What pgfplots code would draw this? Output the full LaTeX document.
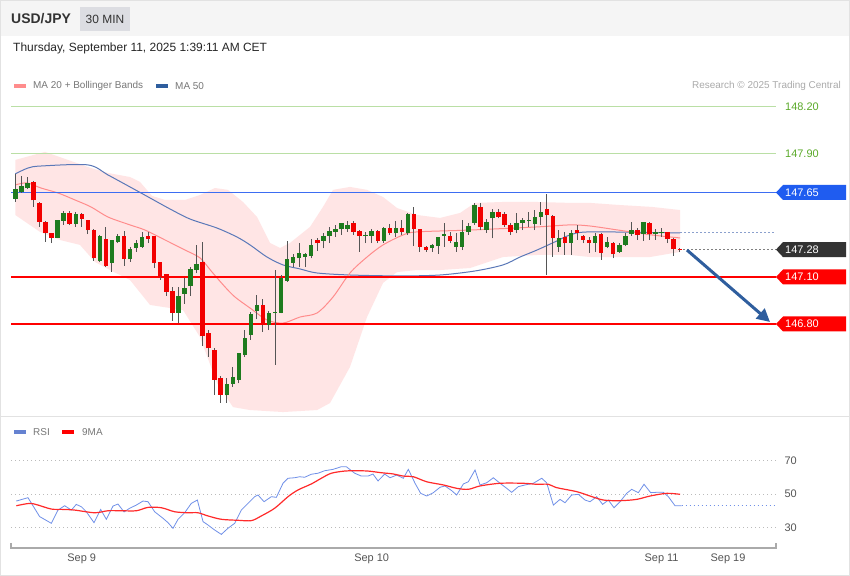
\documentclass[border=0pt]{standalone}
\usepackage{fontspec}
\setmainfont{Liberation Sans}
\usepackage{pgfplots}
\usepackage{pgfplotstable}
\pgfplotsset{compat=1.18}
\usetikzlibrary{arrows.meta}

\definecolor{upg}{HTML}{1E7B1E}
\definecolor{dnr}{HTML}{F20000}
\definecolor{wick}{HTML}{555555}
\definecolor{bb}{HTML}{FFE5E5}
\definecolor{ma20}{HTML}{FF8C8C}
\definecolor{ma50}{HTML}{5A78B8}
\definecolor{lvlg}{HTML}{BADFA5}
\definecolor{lvlgt}{HTML}{5BAA2A}
\definecolor{bluelvl}{HTML}{3D6DF2}
\definecolor{bluebox}{HTML}{1F5CF0}
\definecolor{redlvl}{HTML}{FF0000}
\definecolor{darkbox}{HTML}{333333}
\definecolor{arrowc}{HTML}{2F5E9E}
\definecolor{rsib}{HTML}{7090E8}
\definecolor{rsir}{HTML}{FF2A2A}
\definecolor{hdr}{HTML}{F5F5F5}
\definecolor{minbox}{HTML}{DCDDE2}
\definecolor{framec}{HTML}{E2E2E2}
\definecolor{gridc}{HTML}{BBBBBB}
\definecolor{tickc}{HTML}{555555}
\definecolor{legc}{HTML}{777777}
\definecolor{resc}{HTML}{AAAAAA}
\definecolor{axisc}{HTML}{AAAAAA}

\pgfplotstableread{
i o h l c
0 147.608 147.768 147.589 147.670
1 147.654 147.755 147.648 147.690
2 147.676 147.746 147.670 147.710
7 147.357 147.469 147.357 147.469
8 147.465 147.531 147.439 147.516
10 147.447 147.525 147.428 147.508
14 147.208 147.374 147.198 147.366
16 147.192 147.340 147.137 147.340
17 147.327 147.381 147.321 147.366
19 147.217 147.298 147.202 147.282
20 147.289 147.342 147.266 147.324
21 147.298 147.396 147.292 147.359
27 146.873 147.041 146.805 146.981
28 146.994 147.095 146.929 147.032
29 147.045 147.166 146.981 147.153
30 147.148 147.310 147.127 147.187
35 146.342 146.450 146.292 146.413
36 146.413 146.521 146.396 146.460
37 146.439 146.611 146.417 146.611
38 146.600 146.761 146.589 146.712
39 146.729 146.880 146.697 146.863
40 146.887 146.987 146.830 146.921
42 146.792 146.884 146.761 146.869
43 146.871 147.148 146.536 146.877
44 146.873 147.116 146.869 147.095
45 147.079 147.337 147.073 147.219
46 147.196 147.252 147.166 147.230
47 147.224 147.321 147.166 147.260
48 147.234 147.260 147.166 147.252
49 147.239 147.346 147.224 147.310
51 147.338 147.385 147.288 147.368
52 147.368 147.428 147.321 147.400
53 147.396 147.439 147.363 147.411
54 147.411 147.454 147.374 147.450
55 147.413 147.465 147.394 147.439
58 147.370 147.396 147.321 147.374
59 147.368 147.411 147.321 147.400
61 147.336 147.428 147.324 147.417
63 147.385 147.466 147.359 147.417
65 147.389 147.514 147.374 147.510
69 147.289 147.314 147.266 147.310
70 147.303 147.363 147.252 147.359
71 147.368 147.450 147.298 147.381
73 147.298 147.389 147.266 147.331
74 147.298 147.471 147.277 147.396
75 147.396 147.450 147.374 147.432
76 147.450 147.579 147.439 147.568
78 147.406 147.475 147.389 147.460
79 147.482 147.540 147.353 147.525
83 147.406 147.514 147.385 147.454
84 147.450 147.482 147.406 147.471
85 147.467 147.525 147.428 147.471
86 147.445 147.535 147.406 147.489
87 147.489 147.589 147.439 147.525
90 147.298 147.406 147.266 147.353
92 147.321 147.406 147.245 147.389
96 147.321 147.385 147.266 147.368
98 147.298 147.363 147.289 147.331
100 147.266 147.321 147.260 147.310
101 147.310 147.385 147.303 147.368
102 147.379 147.456 147.368 147.406
104 147.379 147.460 147.338 147.456
106 147.379 147.411 147.342 147.391
107 147.389 147.417 147.363 147.392
}\upc

\pgfplotstableread{
i o h l c
3 147.718 147.723 147.557 147.598
4 147.579 147.589 147.428 147.458
5 147.460 147.466 147.329 147.389
6 147.389 147.389 147.321 147.357
9 147.518 147.529 147.437 147.445
11 147.508 147.514 147.428 147.477
12 147.469 147.473 147.379 147.406
13 147.406 147.413 147.207 147.224
15 147.349 147.426 147.166 147.176
18 147.368 147.398 147.176 147.219
22 147.368 147.392 147.321 147.347
23 147.368 147.368 147.160 147.192
24 147.200 147.200 147.084 147.101
25 147.121 147.121 146.981 147.008
26 147.013 147.041 146.821 146.873
31 147.202 147.331 146.658 146.723
32 146.740 146.761 146.589 146.643
33 146.632 146.643 146.342 146.439
34 146.450 146.465 146.292 146.342
41 146.921 146.960 146.750 146.792
50 147.342 147.353 147.271 147.321
56 147.450 147.465 147.374 147.396
57 147.400 147.406 147.266 147.368
60 147.400 147.406 147.321 147.336
62 147.417 147.445 147.374 147.385
64 147.417 147.471 147.374 147.396
66 147.510 147.557 147.303 147.411
67 147.411 147.411 147.266 147.298
68 147.298 147.303 147.266 147.277
72 147.368 147.396 147.321 147.336
77 147.557 147.579 147.406 147.428
80 147.525 147.540 147.482 147.489
81 147.508 147.525 147.428 147.439
82 147.439 147.450 147.374 147.396
88 147.540 147.639 147.116 147.503
89 147.497 147.503 147.234 147.353
91 147.363 147.396 147.245 147.321
93 147.406 147.439 147.342 147.389
94 147.368 147.374 147.321 147.342
95 147.342 147.363 147.260 147.321
97 147.381 147.385 147.213 147.260
99 147.321 147.331 147.224 147.250
103 147.406 147.417 147.342 147.374
105 147.450 147.460 147.342 147.379
108 147.391 147.391 147.321 147.346
109 147.349 147.353 147.240 147.282
110 147.282 147.290 147.264 147.280
}\dnc

\newcommand\lblfont{\fontsize{11}{13}\selectfont}
\newcommand\plabel[3]{%
  \begin{scope}[yshift=#1bp]
    \fill[#2] (776bp,0) -- (783bp,7.5bp) -- (846bp,7.5bp) -- (846bp,-7.5bp) -- (783bp,-7.5bp) -- cycle;
    \node[anchor=west, inner sep=0pt, text=white, font=\lblfont] at (785bp,0) {#3};
  \end{scope}}

\begin{document}
\begin{tikzpicture}
% background and frame
\fill[white] (0,0) rectangle (850bp,576bp);
\fill[hdr] (0,540bp) rectangle (850bp,576bp);
\draw[framec] (0.5bp,0.5bp) rectangle (849.5bp,575.5bp);
\draw[framec] (0.5bp,160bp) -- (849.5bp,160bp);
% header
\node[anchor=base west, inner sep=0pt, font=\fontsize{14}{16}\selectfont\bfseries, text=darkbox] at (11bp,552bp) {USD/JPY};
\fill[minbox] (80bp,545bp) rectangle (130bp,569bp);
\node[anchor=center, inner sep=0pt, font=\fontsize{12}{14}\selectfont, text=darkbox] at (105bp,557bp) {30 MIN};
\node[anchor=base west, inner sep=0pt, font=\fontsize{12}{14}\selectfont, text=black!85] at (13bp,524bp) {Thursday, September 11, 2025 1:39:11 AM CET};
% legend
\fill[ma20] (14bp,488bp) rectangle (26bp,492bp);
\node[anchor=west, inner sep=0pt, font=\fontsize{10}{12}\selectfont, text=legc] at (33bp,490bp) {MA 20 + Bollinger Bands};
\fill[arrowc] (156bp,488bp) rectangle (168bp,492bp);
\node[anchor=west, inner sep=0pt, font=\fontsize{10}{12}\selectfont, text=legc] at (175bp,490bp) {MA 50};
\node[anchor=east, inner sep=0pt, font=\fontsize{10}{12}\selectfont, text=resc] at (841bp,490bp) {Research \textcopyright{} 2025 Trading Central};
% RSI legend
\fill[rsib!90!black] (14bp,142bp) rectangle (26bp,146bp);
\node[anchor=west, inner sep=0pt, font=\fontsize{10}{12}\selectfont, text=legc] at (33bp,144bp) {RSI};
\fill[redlvl] (62bp,142bp) rectangle (74bp,146bp);
\node[anchor=west, inner sep=0pt, font=\fontsize{10}{12}\selectfont, text=legc] at (82bp,144bp) {9MA};

\begin{axis}[at={(11bp,161bp)}, anchor=south west, scale only axis,
  width=765bp, height=320bp,
  xmin=-0.712, xmax=125.94, ymin=146.213, ymax=148.277, hide axis]
% Bollinger band: upper band left to right, then lower band right to left
\addplot[fill=bb, draw=none] coordinates {
(0,147.858) (2.43,147.884) (4.92,147.910) (8.73,147.858) (12.53,147.806) (15.35,147.774) (18.99,147.748) (20.65,147.716) (22.63,147.626) (24.79,147.600) (28.10,147.600) (30.58,147.632) (33.06,147.677) (35.21,147.665) (37.70,147.587) (40.02,147.490) (42.17,147.323) (43.83,147.290) (45.48,147.323) (48.79,147.426) (50.94,147.555) (52.60,147.665) (55.41,147.684) (58.23,147.665) (60.88,147.619) (63.20,147.548) (66.51,147.503) (70.32,147.484) (73.63,147.516) (76.12,147.581) (80.75,147.587) (86.37,147.587) (91.84,147.581) (95.15,147.581) (99.79,147.568) (105.42,147.555) (110.05,147.535)
(110.05,147.265) (105.08,147.232) (100.12,147.232) (95.15,147.232) (91.84,147.245) (86.37,147.245) (80.75,147.232) (75.29,147.161) (70.32,147.148) (66.51,147.148) (63.20,147.135) (60.88,147.065) (58.23,146.845) (55.41,146.523) (52.10,146.290) (49.95,146.245) (44.32,146.232) (38.86,146.245) (36.04,146.264) (33.39,146.419) (30.58,146.716) (27.77,146.890) (22.30,146.923) (18.99,147.084) (15.68,147.148) (13.20,147.200) (10.71,147.310) (7.40,147.342) (4.09,147.394) (0,147.503)} -- cycle;
% MA 50
\addplot[ma50, line width=1bp, smooth, tension=0.5] coordinates {
(0,147.768) (2.10,147.806) (4.25,147.819) (12.04,147.826) (15.35,147.761) (18.99,147.684) (22.30,147.613) (25.61,147.542) (28.93,147.477) (33.39,147.419) (36.70,147.361) (38.86,147.310) (41.67,147.232) (44.32,147.181) (47.14,147.155) (49.95,147.129) (55.41,147.116) (63.69,147.110) (70.32,147.116) (76.12,147.142) (80.75,147.181) (83.57,147.232) (86.37,147.277) (89.69,147.336) (91.84,147.374) (95.15,147.394) (110.05,147.387)};
% MA 20
\addplot[ma20, line width=1bp, smooth, tension=0.5] coordinates {
(0,147.697) (1.94,147.710) (4.25,147.677) (7.07,147.645) (9.88,147.600) (12.53,147.555) (15.35,147.490) (18.99,147.439) (21.47,147.406) (24.79,147.342) (28.10,147.277) (30.58,147.226) (32.57,147.135) (34.72,147.039) (36.37,146.974) (38.86,146.903) (41.67,146.826) (44.32,146.806) (47.14,146.845) (49.95,146.871) (52.60,146.974) (55.41,147.129) (58.23,147.232) (60.88,147.310) (64.19,147.374) (66.51,147.394) (75.29,147.406) (86.37,147.426) (91.84,147.439) (95.15,147.432) (99.79,147.406) (105.42,147.374) (110.05,147.355)};
% levels
\addplot[lvlg, line width=1bp] coordinates {(-0.712,148.20) (125.94,148.20)};
\addplot[lvlg, line width=1bp] coordinates {(-0.712,147.90) (125.94,147.90)};
\addplot[bluelvl, line width=1.2bp] coordinates {(-0.712,147.65) (125.94,147.65)};
\addplot[redlvl, line width=2bp] coordinates {(-0.712,147.10) (125.94,147.10)};
\addplot[redlvl, line width=2bp] coordinates {(-0.712,146.80) (125.94,146.80)};
\addplot[ma50!70!white, line width=1bp, dash pattern=on 1.5bp off 2.5bp] coordinates {(110.05,147.387) (125.94,147.387)};
\addplot[gray, line width=1bp, dash pattern=on 1.5bp off 2.5bp] coordinates {(110.6,147.28) (125.94,147.28)};
% wicks
\addplot[draw=none, mark=none, error bars/.cd, y dir=plus, y explicit, error mark=none,
  error bar style={line width=1bp, draw=wick}]
  table[x=i, y=l, y error plus expr=\thisrow{h}-\thisrow{l}] {\upc};
\addplot[draw=none, mark=none, error bars/.cd, y dir=plus, y explicit, error mark=none,
  error bar style={line width=1bp, draw=wick}]
  table[x=i, y=l, y error plus expr=\thisrow{h}-\thisrow{l}] {\dnc};
% bodies
\addplot[draw=none, mark=none, error bars/.cd, y dir=plus, y explicit, error mark=none,
  error bar style={line width=4.4bp, draw=upg}]
  table[x=i, y=o, y error plus expr={max(\thisrow{c}-\thisrow{o},0.006)}] {\upc};
\addplot[draw=none, mark=none, error bars/.cd, y dir=plus, y explicit, error mark=none,
  error bar style={line width=4.4bp, draw=dnr}]
  table[x=i, y=c, y error plus expr={max(\thisrow{o}-\thisrow{c},0.006)}] {\dnc};
% arrow
\draw[arrowc, line width=3bp, -{Triangle[length=13bp,width=13bp]}] (axis cs:111.2,147.277) -- (axis cs:124.95,146.813);
\end{axis}

% price labels
\node[anchor=west, inner sep=0pt, text=lvlgt, font=\lblfont] at (785bp,469bp) {148.20};
\node[anchor=west, inner sep=0pt, text=lvlgt, font=\lblfont] at (785bp,422bp) {147.90};
\plabel{383.5}{bluebox}{147.65}
\plabel{326.4}{darkbox}{147.28}
\plabel{299}{redlvl}{147.10}
\plabel{252}{redlvl}{146.80}

\begin{axis}[at={(11bp,28bp)}, anchor=south west, scale only axis,
  width=765bp, height=108bp,
  xmin=-0.712, xmax=125.94, ymin=17.76, ymax=82.24, clip=false,
  axis line style={draw=none},
  xtick={11,59,107,118}, xticklabels={Sep 9,Sep 10,Sep 11,Sep 19},
  ytick={30,50,70}, yticklabel pos=right,
  ymajorgrids, major grid style={gridc, line width=0.8bp, dash pattern=on 1bp off 3bp},
  tick style={draw=none}, major tick length=0pt,
  tick label style={font=\fontsize{11}{13}\selectfont, text=tickc},
  /pgf/number format/assume math mode=true,
  yticklabel style={anchor=west, xshift=5bp},
  xticklabel style={yshift=-2bp}]
\addplot[rsib, line width=0.8bp] coordinates {
(0.17,45.8) (2.10,47.8) (4.03,36.5) (5.97,32.5) (7.07,40.4) (8.17,43.0) (9.28,40.4) (10.1,43.8) (10.93,42.4) (11.76,39.4) (13.03,32.9) (14.13,40.8) (15.07,34.9) (16.18,42.8) (17.0,44.0) (18.0,39.3) (18.94,41.5) (20.04,43.4) (21.14,45.8) (21.97,45.4) (23.07,39.4) (24.45,35.5) (25.28,32.9) (26.11,29.5) (26.94,34.9) (28.04,38.8) (29.14,44.4) (30.14,46.4) (31.08,33.5) (31.9,31.5) (33.0,28.5) (34.11,25.9) (35.2,29.5) (36.32,32.5) (37.42,40.4) (38.53,44.4) (39.63,48.4) (40.18,49.4) (41.18,45.4) (42.39,48.4) (43.22,48.0) (44.32,56.4) (45.15,59.4) (46.25,59.7) (47.08,60.3) (47.91,60.0) (49.01,61.8) (50.12,62.4) (51.22,63.9) (52.6,64.7) (53.98,66.3) (54.8,66.3) (56.19,62.4) (57.29,60.7) (58.39,60.7) (59.22,61.9) (60.05,57.8) (61.15,61.9) (62.04,59.7) (63.14,61.3) (64.24,59.4) (65.07,64.7) (66.18,56.4) (67.11,50.4) (68.11,48.8) (69.21,50.8) (70.31,54.0) (71.14,54.8) (72.25,52.0) (73.07,49.4) (74.18,56.0) (75.0,57.3) (76.11,64.3) (76.94,55.4) (78.04,56.7) (79.14,59.7) (80.25,56.4) (81.35,53.4) (82.18,51.0) (83.28,54.4) (84.39,55.4) (85.77,56.4) (87.15,59.4) (87.97,56.7) (89.08,43.4) (90.18,46.8) (91.01,44.8) (92.11,49.4) (93.22,49.8) (94.32,46.4) (95.15,45.4) (96.25,48.4) (97.24,43.8) (98.18,46.4) (99.12,41.8) (100.12,45.4) (101.22,50.4) (102.05,52.8) (103.15,50.8) (104.09,55.8) (105.19,50.8) (106.18,51.0) (107.29,51.0) (108.12,48.4) (109.22,43.0) (110.32,43.0)};
\addplot[rsib, line width=0.8bp, dash pattern=on 1.5bp off 2.5bp] coordinates {(110.32,43.0) (125.94,43.0)};
\addplot[rsir, line width=1.2bp, smooth, tension=0.5] coordinates {
(0.17,43.0) (2.38,44.4) (3.76,43.4) (5.97,41.0) (7.9,40.8) (9.83,40.4) (13.14,38.8) (15.35,40.0) (17.55,40.0) (20.04,40.0) (21.97,42.0) (24.18,41.8) (26.39,39.4) (28.59,38.8) (30.25,38.8) (31.9,36.9) (34.11,34.9) (36.87,34.3) (39.08,34.1) (40.73,36.9) (42.94,41.5) (45.15,48.4) (46.8,52.4) (49.01,56.0) (50.67,59.4) (52.32,62.4) (54.53,63.7) (56.19,63.9) (58.39,63.7) (60.6,62.7) (62.5,62.0) (64.24,60.7) (65.9,60.3) (68.11,57.3) (70.87,55.4) (73.07,53.4) (75.0,52.8) (76.94,54.8) (80.25,56.4) (84.11,56.4) (86.32,55.8) (88.25,55.8) (89.63,53.8) (92.94,51.4) (95.15,48.8) (97.36,46.4) (100.12,46.0) (102.88,46.8) (105.09,48.8) (107.85,50.4) (110.05,49.8)};
\draw[axisc, line width=1.5bp] ([yshift=5bp]rel axis cs:0,0) -- (rel axis cs:0,0) -- (rel axis cs:1,0) -- ([yshift=5bp]rel axis cs:1,0);
\end{axis}
\end{tikzpicture}
\end{document}
